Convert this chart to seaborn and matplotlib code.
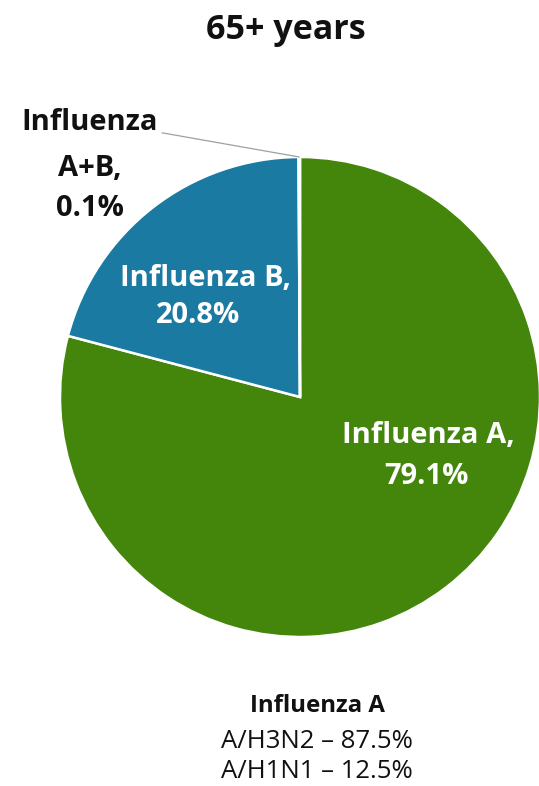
import numpy as np
import matplotlib
matplotlib.use("Agg")
import matplotlib.pyplot as plt
import seaborn as sns

# Share of positive samples by virus type, age group 65+
categories = ["Influenza A", "Influenza B", "Influenza A+B"]
shares = [79.1, 20.8, 0.1]
colors = ["#43860B", "#1A7AA1", "#A6A6A6"]

subtype_title = "Influenza A"
subtypes = ["A/H3N2", "A/H1N1"]
subtype_shares = [87.5, 12.5]

title = "65+ years"

sns.set_theme(style="white")
plt.rcParams["font.family"] = ["Open Sans", "DejaVu Sans"]

W, H = 539, 786
fig = plt.figure(figsize=(W / 100, H / 100), dpi=100)
fig.patch.set_facecolor("white")

# square axes holding the pie, centre (300, 397) px, radius 240 px
cx, cy, r = 300, 397, 240
ax = fig.add_axes([(cx - r) / W, (H - cy - r) / H, 2 * r / W, 2 * r / H])
wedges, _ = ax.pie(
    shares,
    colors=colors,
    startangle=90,
    counterclock=False,
    radius=1.0,
    wedgeprops=dict(edgecolor="white", linewidth=1.8),
)
ax.set_xlim(-1, 1)
ax.set_ylim(-1, 1)
ax.set_aspect("equal")
ax.axis("off")
for w in wedges:
    w.set_clip_on(False)


def fx(px):
    return px / W


def fy(py):
    return 1 - py / H


lab_size = 21
fig.text(fx(286), fy(30), title, ha="center", va="center",
         fontsize=24.5, fontweight="bold", color="#111111")

# label inside Influenza A wedge
fig.text(fx(428), fy(436), f"{categories[0]},", ha="center", va="center",
         fontsize=lab_size, fontweight="bold", color="white")
fig.text(fx(426), fy(476), f"{shares[0]:.1f}%", ha="center", va="center",
         fontsize=lab_size, fontweight="bold", color="white")

# label inside Influenza B wedge
fig.text(fx(205), fy(278), f"{categories[1]},", ha="center", va="center",
         fontsize=lab_size, fontweight="bold", color="white")
fig.text(fx(198), fy(316), f"{shares[1]:.1f}%", ha="center", va="center",
         fontsize=lab_size, fontweight="bold", color="white")

# outside label for the tiny A+B wedge, with leader line
fig.text(fx(90), fy(123), "Influenza", ha="center", va="center",
         fontsize=lab_size, fontweight="bold", color="#111111")
fig.text(fx(90), fy(168), "A+B,", ha="center", va="center",
         fontsize=lab_size, fontweight="bold", color="#111111")
fig.text(fx(90), fy(209), f"{shares[2]:.1f}%", ha="center", va="center",
         fontsize=lab_size, fontweight="bold", color="#111111")

w = wedges[2]
mid = np.deg2rad((w.theta1 + w.theta2) / 2)
tip = (np.cos(mid) * w.r, np.sin(mid) * w.r)
ax.annotate(
    "", xy=tip, xycoords="data",
    xytext=(162, H - 133), textcoords="figure pixels",
    arrowprops=dict(arrowstyle="-", color="#A0A0A0", lw=0.9,
                    shrinkA=0, shrinkB=0,
                    connectionstyle="angle,angleA=0,angleB=-10,rad=0"),
    annotation_clip=False,
)

# subtype breakdown below the pie
fig.text(fx(317), fy(706), subtype_title, ha="center", va="center",
         fontsize=17.3, fontweight="bold", color="#111111")
for i, (s, v) in enumerate(zip(subtypes, subtype_shares)):
    fig.text(fx(317), fy(741 + 30 * i), f"{s} \u2013 {v:.1f}%",
             ha="center", va="center", fontsize=18.5, color="#111111")

fig.savefig("out.png", dpi=100, facecolor="white")
